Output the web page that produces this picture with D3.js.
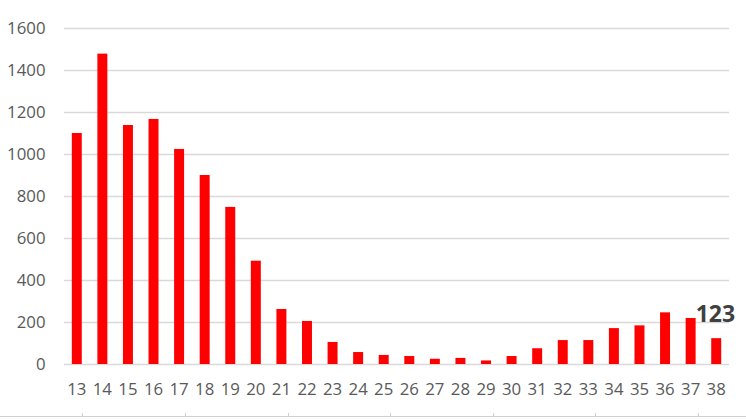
<!DOCTYPE html>
<html>
<head>
<meta charset="utf-8">
<script src="https://cdn.jsdelivr.net/npm/d3@7"></script>
<style>
  html, body { margin: 0; padding: 0; background: #fff; }
  svg { display: block; }
</style>
</head>
<body>
<svg id="chart" width="746" height="419"></svg>
<script>
const categories = ["13","14","15","16","17","18","19","20","21","22","23","24","25","26","27","28","29","30","31","32","33","34","35","36","37","38"];
const values = [1100,1478,1138,1167,1024,900,748,492,262,205,105,57,43,38,25,29,17,38,75,114,114,171,184,246,219,123];
const yTicks = [0,200,400,600,800,1000,1200,1400,1600];
const labelCategory = "38";
const labelText = "123";
const bottomTickPositions = [82,185,288,390,493,595,698];

(function () {
const svg = d3.select("#chart");
const W = 746;
const mLeft = 64, mRight = 729, mTop = 28, mBottom = 364;

const x = d3.scaleBand().domain(categories).range([mLeft, mRight]).paddingInner(0.61).paddingOuter(0.305);
const y = d3.scaleLinear().domain([0, 1600]).range([mBottom, mTop]);

const font = "'Open Sans', 'Noto Sans', sans-serif";

// gridlines
svg.append("g").selectAll("line").data(yTicks).join("line")
  .attr("x1", mLeft).attr("x2", mRight)
  .attr("y1", d => Math.round(y(d)) + 0.5).attr("y2", d => Math.round(y(d)) + 0.5)
  .attr("stroke", "#d9d9d9").attr("stroke-width", 1.3);

// y labels
svg.append("g").selectAll("text").data(yTicks).join("text")
  .attr("x", 45.5).attr("y", d => y(d)).attr("dy", "0.36em")
  .attr("text-anchor", "end")
  .attr("font-family", font).attr("font-size", 16.8).attr("fill", "#595959")
  .text(d => d);

// bars
svg.append("g").selectAll("rect").data(values).join("rect")
  .attr("x", (d, i) => x(categories[i]))
  .attr("width", x.bandwidth())
  .attr("y", d => y(d))
  .attr("height", d => y(0) - y(d))
  .attr("fill", "#ff0000");

// x labels
svg.append("g").selectAll("text").data(categories).join("text")
  .attr("x", d => x(d) + x.bandwidth() / 2).attr("y", 395)
  .attr("text-anchor", "middle")
  .attr("font-family", font).attr("font-size", 16.8).attr("fill", "#595959")
  .text(d => d);

// data label
svg.append("text")
  .attr("x", x(labelCategory) + x.bandwidth() / 2 - 20.5).attr("y", 321.5)
  .attr("font-family", font).attr("font-weight", "bold")
  .attr("font-size", 23).attr("fill", "#404040")
  .text(labelText);

// bottom line with ticks
svg.append("line").attr("x1", 0).attr("x2", W).attr("y1", 416.5).attr("y2", 416.5)
  .attr("stroke", "#d0d0d0").attr("stroke-width", 1);
svg.append("g").selectAll("line").data(bottomTickPositions).join("line")
  .attr("x1", d => d + 0.5).attr("x2", d => d + 0.5).attr("y1", 413).attr("y2", 417)
  .attr("stroke", "#d0d0d0").attr("stroke-width", 1);
})();
</script>
</body>
</html>
